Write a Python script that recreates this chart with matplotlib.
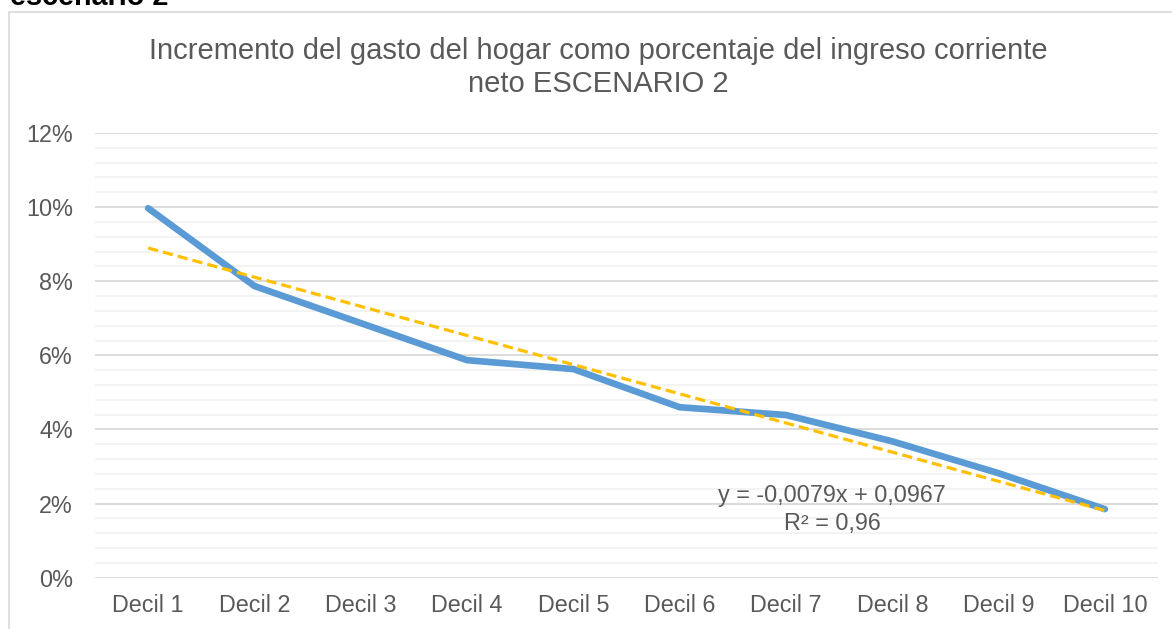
import matplotlib.pyplot as plt
import matplotlib.ticker as mticker
from matplotlib.patches import Rectangle
import numpy as np

plt.rcParams['font.family'] = ['Liberation Sans', 'DejaVu Sans']

deciles = ["Decil 1", "Decil 2", "Decil 3", "Decil 4", "Decil 5",
           "Decil 6", "Decil 7", "Decil 8", "Decil 9", "Decil 10"]
gasto = [0.0997, 0.0787, 0.0687, 0.0587, 0.0563,
         0.0460, 0.0439, 0.0368, 0.0282, 0.0185]

gray = "#595959"
W, H = 1172, 629

fig = plt.figure(figsize=(W / 100, H / 100), dpi=100)
ax = fig.add_axes([95/W, 1 - 577.7/H, (1158 - 95)/W, (577.7 - 133)/H])

x = np.arange(1, len(deciles) + 1)
ax.plot(x, gasto, color="#5B9BD5", lw=4.8, solid_capstyle="round",
        solid_joinstyle="round", zorder=3)

# linear trend line
m, b = np.polyfit(x, gasto, 1)
ax.plot(x, m * x + b, color="#FFC000", lw=2.3, dashes=(3.2, 1.6), zorder=4)

ax.set_xlim(0.5, 10.5)
ax.set_ylim(0, 0.12)
ax.set_xticks(x)
ax.set_xticklabels(deciles)
ax.yaxis.set_major_locator(mticker.MultipleLocator(0.02))
ax.yaxis.set_minor_locator(mticker.MultipleLocator(0.004))
ax.yaxis.set_major_formatter(mticker.FuncFormatter(lambda v, p: f"{v*100:.0f}%"))
ax.grid(which="major", axis="y", color="#d9d9d9", lw=1.3, zorder=1)
ax.grid(which="minor", axis="y", color="#f2f2f2", lw=1.3, zorder=1)
ax.tick_params(which="both", length=0, colors=gray, labelsize=16.8)
ax.tick_params(axis="y", pad=16)
ax.tick_params(axis="x", pad=12)
for s in ax.spines.values():
    s.set_visible(False)

# title, two centred lines
fig.text(598/W, 1 - 59/H, "Incremento del gasto del hogar como porcentaje del ingreso corriente",
         ha="center", va="baseline", fontsize=21, color=gray)
fig.text(598/W, 1 - 92/H, "neto ESCENARIO 2",
         ha="center", va="baseline", fontsize=21, color=gray)

# trend equation
fig.text(832/W, 1 - 502/H, "y = -0,0079x + 0,0967",
         ha="center", va="baseline", fontsize=16.8, color=gray)
fig.text(832/W, 1 - 530/H, "R\u00b2 = 0,96",
         ha="center", va="baseline", fontsize=16.8, color=gray)

# chart border and cut-off heading
fig.patches.append(Rectangle((9/W, -0.1), 1.2, 1 - 12/H + 0.1,
                             transform=fig.transFigure, fill=False,
                             edgecolor="#d9d9d9", lw=1.2))
fig.text(10/W, 1 - 5/H, "escenario 2", ha="left", va="baseline",
         fontsize=20.7, fontweight="bold", color="black")

fig.savefig("out.png", dpi=100)
